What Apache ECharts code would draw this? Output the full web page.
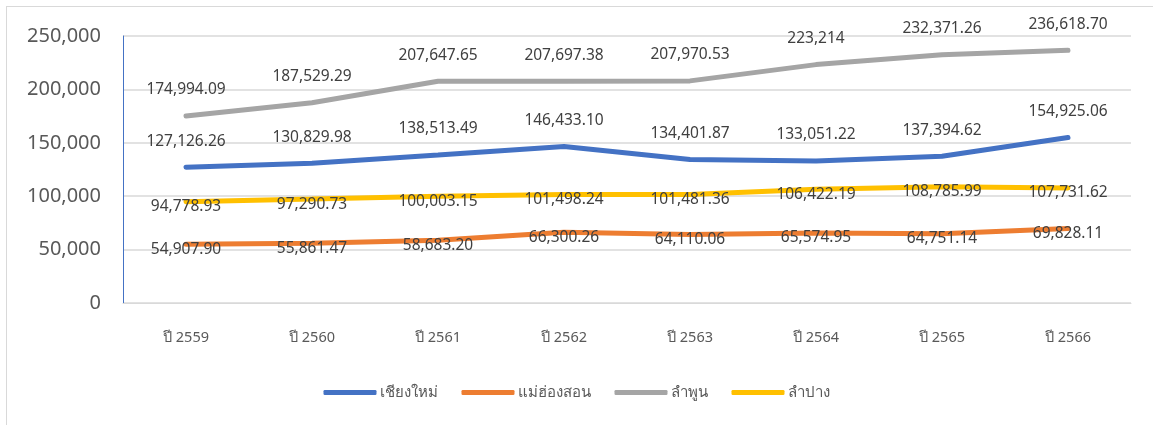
<!DOCTYPE html>
<html>
<head>
<meta charset="utf-8">
<script src="https://cdn.jsdelivr.net/npm/echarts@6/dist/echarts.min.js"></script>
<style>
  html, body { margin: 0; padding: 0; background: #fff; }
  #chart { position: absolute; left: 0; top: 0; width: 1153px; height: 425px; }
  #frame { position: absolute; left: 6px; top: 6px; width: 1160px; height: 440px; border: 1px solid #d9d9d9; }
</style>
</head>
<body>
<div id="frame"></div>
<div id="chart"></div>
<script>
const years = ['ปี 2559', 'ปี 2560', 'ปี 2561', 'ปี 2562', 'ปี 2563', 'ปี 2564', 'ปี 2565', 'ปี 2566']
const chiangMai = [127126.26, 130829.98, 138513.49, 146433.10, 134401.87, 133051.22, 137394.62, 154925.06]
const maeHongSon = [54907.90, 55861.47, 58683.20, 66300.26, 64110.06, 65574.95, 64751.14, 69828.11]
const lamphun = [174994.09, 187529.29, 207647.65, 207697.38, 207970.53, 223214, 232371.26, 236618.70]
const lampang = [94778.93, 97290.73, 100003.15, 101498.24, 101481.36, 106422.19, 108785.99, 107731.62]

const font = '"Noto Sans", Roboto, sans-serif'

const fmt = (v) => Number.isInteger(v)
  ? v.toLocaleString('en-US')
  : v.toLocaleString('en-US', { minimumFractionDigits: 2, maximumFractionDigits: 2 })

const makeSeries = (name, data, color, labelPos) => ({
  name,
  type: 'line',
  data,
  symbol: 'circle',
  symbolSize: 0.1,
  showSymbol: true,
  lineStyle: { width: 5, color, cap: 'round' },
  itemStyle: { color },
  label: {
    show: true,
    position: labelPos === 'top' ? 'top' : 'inside',
    distance: 18,
    offset: labelPos === 'top' ? [0, 0] : [0, 5],
    color: '#404040',
    fontSize: 15.5,
    fontFamily: font,
    formatter: (p) => fmt(p.value)
  }
})

const chart = echarts.init(document.getElementById('chart'))
chart.setOption({
  animation: false,
  textStyle: { fontFamily: font },
  grid: { left: 123, right: 22, top: 36, bottom: 122 },
  legend: {
    bottom: 20,
    left: 'center',
    icon: 'roundRect',
    itemWidth: 53,
    itemHeight: 5,
    itemGap: 24,
    textStyle: { color: '#595959', fontSize: 15, fontFamily: font, padding: [0, 0, 0, -2] },
    data: ['เชียงใหม่', 'แม่ฮ่องสอน', 'ลำพูน', 'ลำปาง']
  },
  xAxis: {
    type: 'category',
    data: years,
    boundaryGap: true,
    axisLine: { lineStyle: { color: '#d9d9d9' } },
    axisTick: { show: false },
    axisLabel: { color: '#595959', fontSize: 14.5, margin: 27 }
  },
  yAxis: {
    type: 'value',
    min: 0,
    max: 250000,
    interval: 50000,
    axisLine: { show: true, lineStyle: { color: '#4472c4', width: 1 } },
    axisTick: { show: false },
    axisLabel: {
      color: '#595959',
      fontSize: 20,
      margin: 22,
      formatter: (v) => v.toLocaleString('en-US')
    },
    splitLine: { lineStyle: { color: '#d9d9d9', width: 1.5 } }
  },
  series: [
    makeSeries('เชียงใหม่', chiangMai, '#4472c4', 'top'),
    makeSeries('แม่ฮ่องสอน', maeHongSon, '#ed7d31', 'inside'),
    makeSeries('ลำพูน', lamphun, '#a5a5a5', 'top'),
    makeSeries('ลำปาง', lampang, '#ffc000', 'inside')
  ]
})
</script>
</body>
</html>
